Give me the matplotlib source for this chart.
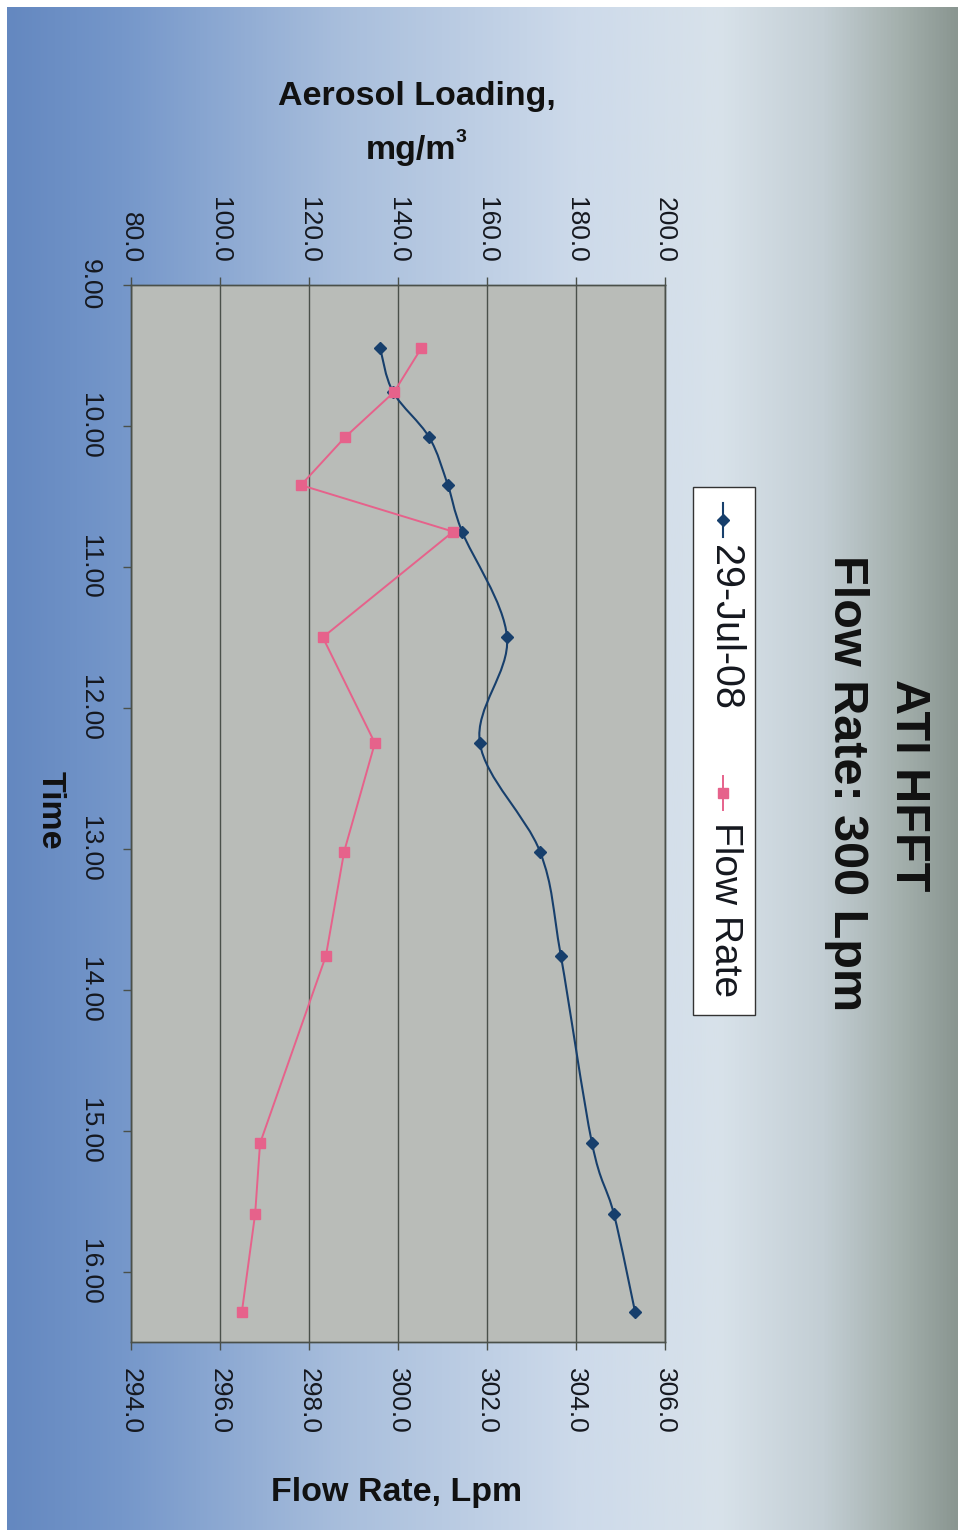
import numpy as np
import matplotlib

matplotlib.use("Agg")

import matplotlib.pyplot as plt
from matplotlib.colors import LinearSegmentedColormap
from matplotlib.path import Path
from matplotlib.patches import PathPatch, Rectangle

plt.rcParams["font.family"] = ["Liberation Sans", "DejaVu Sans"]

# DATA

time_h = [9.45, 9.76, 10.08, 10.42, 10.75, 11.50, 12.25, 13.02, 13.76, 15.09, 15.59, 16.29]
aerosol = [136.0, 138.9, 147.0, 151.2, 154.4, 164.5, 158.4, 171.9, 176.6, 183.6, 188.5, 193.3]
flow_rate = [300.52, 299.91, 298.81, 297.82, 301.24, 298.31, 299.48, 298.79, 298.38, 296.90, 296.79, 296.49]

time_ticks = [9, 10, 11, 12, 13, 14, 15, 16]
time_labels = ["9.00", "10.00", "11.00", "12.00", "13.00", "14.00", "15.00", "16.00"]
aerosol_ticks = [80, 100, 120, 140, 160, 180, 200]
aerosol_labels = ["80.0", "100.0", "120.0", "140.0", "160.0", "180.0", "200.0"]
flow_ticks = [294, 296, 298, 300, 302, 304, 306]
flow_labels = ["294.0", "296.0", "298.0", "300.0", "302.0", "304.0", "306.0"]

BLUE = "#173f6c"
PINK = "#e6628b"
GRID = "#4a504a"
TXT = "#15181f"

W, H = 963, 1532
fig = plt.figure(figsize=(W / 100, H / 100), dpi=100)
fig.patch.set_facecolor("white")

# background (pixel coordinates)
bg = fig.add_axes([0, 0, 1, 1])
bg.set_xlim(0, W)
bg.set_ylim(H, 0)
bg.axis("off")

bg_cmap = LinearSegmentedColormap.from_list(
    "bg",
    [(0.0, "#6488c0"), (0.12, "#7597ca"), (0.35, "#a8bedc"),
     (0.6, "#cddaea"), (0.75, "#d8e2ea"), (0.86, "#c3ced4"),
     (0.94, "#a4b0ad"), (1.0, "#8a9691")],
)
bg.imshow(np.linspace(0, 1, 512).reshape(1, -1), cmap=bg_cmap,
          extent=[7, 958, 1530, 7], aspect="auto", zorder=0)

# main axes
ax = fig.add_axes([131 / W, 1 - 1342 / H, 534 / W, 1057 / H])
ax.set_facecolor("#b9bcb8")
ax.set_xlim(80, 200)
ax.set_ylim(16.5, 9.0)

ax2 = ax.twiny()
ax2.set_xlim(294, 306)

ax.xaxis.tick_top()
ax2.xaxis.tick_bottom()

ax.set_xticks(aerosol_ticks)
ax.set_xticklabels(aerosol_labels)
ax.set_yticks(time_ticks)
ax.set_yticklabels(time_labels)
ax2.set_xticks(flow_ticks)
ax2.set_xticklabels(flow_labels)

ax.tick_params(axis="x", direction="out", length=6, width=1, color=GRID,
               pad=10, labelsize=19, labelcolor=TXT, labelrotation=270)
ax.tick_params(axis="y", direction="out", length=6, width=1, color=GRID,
               pad=15, labelsize=19, labelcolor=TXT, labelrotation=270)
ax2.tick_params(axis="x", direction="out", length=6, width=1, color=GRID,
                pad=13, labelsize=19, labelcolor=TXT, labelrotation=270)
for lab in ax.get_yticklabels():
    lab.set_va("center")

ax.grid(axis="x", color=GRID, lw=1)
ax.grid(axis="y", visible=False)
for a in (ax, ax2):
    for sp in a.spines.values():
        sp.set_color(GRID)
        sp.set_linewidth(1)

# smooth aerosol line (Excel style bezier through the points)
pts = np.column_stack([aerosol, time_h])
verts = [pts[0]]
codes = [Path.MOVETO]
n = len(pts)
for i in range(n - 1):
    p0 = pts[max(i - 1, 0)]
    p1 = pts[i]
    p2 = pts[i + 1]
    p3 = pts[min(i + 2, n - 1)]
    verts += [p1 + (p2 - p0) / 6, p2 - (p3 - p1) / 6, p2]
    codes += [Path.CURVE4] * 3
ax.add_patch(PathPatch(Path(verts, codes), fc="none", ec=BLUE, lw=1.5, zorder=3))
ax.plot(aerosol, time_h, ls="none", marker="D", ms=6, color=BLUE, zorder=4)

ax2.plot(flow_rate, time_h, color=PINK, lw=1.4, marker="s", ms=7,
         mfc=PINK, mec=PINK, zorder=5)

# titles and axis labels
bold = dict(fontweight="bold", color="#111111")
bg.text(908, 785, "ATI HFFT", rotation=270, ha="center", va="center", fontsize=35, **bold)
bg.text(846, 783, "Flow Rate: 300 Lpm", rotation=270, ha="center", va="center", fontsize=35, **bold)
bg.text(417, 97, "Aerosol Loading,", ha="center", va="center", fontsize=24.5, **bold)
bg.text(411, 150, "mg/m", ha="center", va="center", fontsize=24.5, **bold)
bg.text(456, 138, "3", ha="left", va="center", fontsize=14, **bold)
bg.text(397, 1492, "Flow Rate, Lpm", ha="center", va="center", fontsize=24.5, **bold)
bg.text(50, 810, "Time", rotation=270, ha="center", va="center", fontsize=24.5, **bold)

# legend drawn by hand (rotated)
bg.add_patch(Rectangle((693, 487), 62, 528, fc="white", ec="#333333", lw=1, zorder=2))
bg.plot([723, 723], [503, 537], color=BLUE, lw=1.5, zorder=3)
bg.plot([723], [520], ls="none", marker="D", ms=6.5, color=BLUE, zorder=4)
bg.text(725, 545, "29-Jul-08", rotation=270, ha="center", va="top", fontsize=28.5, color=TXT, zorder=4)
bg.plot([723, 723], [776, 810], color=PINK, lw=1.4, zorder=3)
bg.plot([723], [793], ls="none", marker="s", ms=7.5, color=PINK, zorder=4)
bg.text(725, 822, "Flow Rate", rotation=270, ha="center", va="top", fontsize=28, color=TXT, zorder=4)

fig.savefig("out.png", dpi=100)
